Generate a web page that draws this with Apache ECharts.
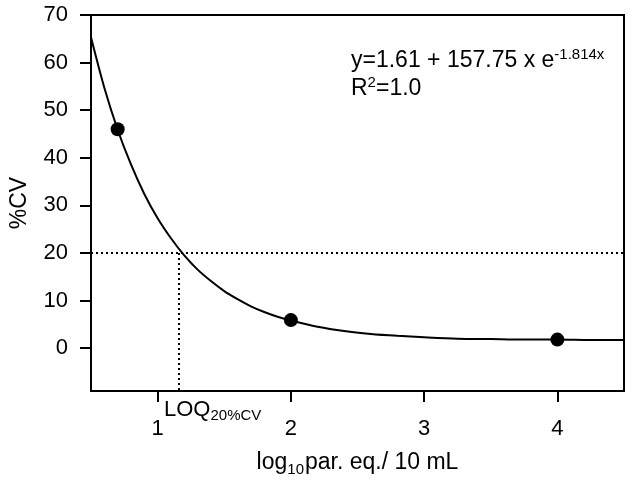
<!DOCTYPE html>
<html>
<head>
<meta charset="utf-8">
<script src="https://cdn.jsdelivr.net/npm/echarts@6/dist/echarts.min.js"></script>
<style>html,body{margin:0;padding:0;background:#fff}#c{width:633px;height:482px}</style>
</head>
<body>
<div id="c"></div>
<script>
// measured points
var pointX = [0.7, 2.0, 4.0];
var pointY = [46.0, 5.9, 1.8];
// fitted curve
var curveX = [0.5, 0.6, 0.7, 0.8, 0.9, 1.0, 1.1, 1.2, 1.3, 1.4, 1.5, 1.6, 1.7, 1.8, 1.9, 2.0, 2.2, 2.4, 2.6, 2.8, 3.0, 3.25, 3.5, 3.75, 4.0, 4.25, 4.5];
var curveY = [65.3, 54.7, 45.9, 38.6, 32.4, 27.3, 23.1, 19.5, 16.5, 14.1, 12.0, 10.3, 8.8, 7.6, 6.6, 5.8, 4.5, 3.6, 3.0, 2.6, 2.3, 2.0, 1.9, 1.8, 1.8, 1.7, 1.7];
var loqX = 1.16;
var loqY = 20;
var xTicks = [1, 2, 3, 4];
var yTicks = [0, 10, 20, 30, 40, 50, 60, 70];

var FONT = 'Liberation Sans';
var chart = echarts.init(document.getElementById('c'));
var curve = curveX.map(function (x, i) { return [x, curveY[i]]; });
var pts = pointX.map(function (x, i) { return [x, pointY[i]]; });

chart.setOption({
  animation: false,
  backgroundColor: '#fff',
  grid: { left: 87, right: 9, top: 15, bottom: 91, show: true, borderColor: '#000', borderWidth: 2 },
  xAxis: {
    type: 'value', min: 0.5, max: 4.5,
    axisLine: { onZero: false, lineStyle: { color: '#000', width: 2 } },
    axisTick: { customValues: xTicks, length: 11, lineStyle: { color: '#000', width: 2 } },
    axisLabel: { customValues: xTicks, margin: 27, color: '#000', fontSize: 22, fontFamily: FONT },
    splitLine: { show: false },
    name: '{a|log}{s|10}{a|par. eq./ 10 mL}',
    nameLocation: 'middle', nameGap: 58,
    nameTextStyle: {
      color: '#000', fontFamily: FONT,
      rich: {
        a: { fontSize: 23, fontFamily: FONT, color: '#000', lineHeight: 28, verticalAlign: 'middle' },
        s: { fontSize: 15, fontFamily: FONT, color: '#000', lineHeight: 28, verticalAlign: 'bottom', padding: [0, 1, 0, 0] }
      }
    }
  },
  yAxis: {
    type: 'value', min: -9, max: 70,
    axisLine: { onZero: false, lineStyle: { color: '#000', width: 2 } },
    axisTick: { customValues: yTicks, length: 11, lineStyle: { color: '#000', width: 2 } },
    axisLabel: { customValues: yTicks, margin: 23, color: '#000', fontSize: 22, fontFamily: FONT },
    splitLine: { show: false },
    name: '%CV', nameLocation: 'middle', nameGap: 60,
    nameTextStyle: { color: '#000', fontSize: 23, fontFamily: FONT }
  },
  series: [
    {
      type: 'line', data: curve, smooth: 0.3, showSymbol: false, symbol: 'none',
      lineStyle: { color: '#000', width: 2 }, z: 3,
      markLine: {
        silent: true, symbol: 'none', label: { show: false },
        lineStyle: { color: '#000', width: 2, type: [2, 3] },
        data: [
          { yAxis: loqY },
          [{ coord: [loqX, loqY] }, { coord: [loqX, -9] }]
        ]
      }
    },
    {
      type: 'scatter', data: pts, symbol: 'circle', symbolSize: 14,
      itemStyle: { color: '#000', opacity: 1 }, z: 4
    }
  ],
  graphic: [
    {
      type: 'text', left: 351, top: 47,
      style: {
        text: '{a|y=1.61 + 157.75 x e}{p|-1.814x}',
        rich: {
          a: { fontSize: 23, fontFamily: FONT, fill: '#000', lineHeight: 28, verticalAlign: 'middle' },
          p: { fontSize: 15, fontFamily: FONT, fill: '#000', lineHeight: 28, verticalAlign: 'top' }
        }
      }
    },
    {
      type: 'text', left: 351, top: 75,
      style: {
        text: '{a|R}{p|2}{a|=1.0}',
        rich: {
          a: { fontSize: 23, fontFamily: FONT, fill: '#000', lineHeight: 28, verticalAlign: 'middle' },
          p: { fontSize: 15, fontFamily: FONT, fill: '#000', lineHeight: 28, verticalAlign: 'top' }
        }
      }
    },
    {
      type: 'text', left: 164, top: 399,
      style: {
        text: '{a|LOQ}{s|20%CV}',
        rich: {
          a: { fontSize: 22, fontFamily: FONT, fill: '#000', lineHeight: 26, verticalAlign: 'middle' },
          s: { fontSize: 15, fontFamily: FONT, fill: '#000', lineHeight: 26, verticalAlign: 'bottom' }
        }
      }
    }
  ]
});
</script>
</body>
</html>
